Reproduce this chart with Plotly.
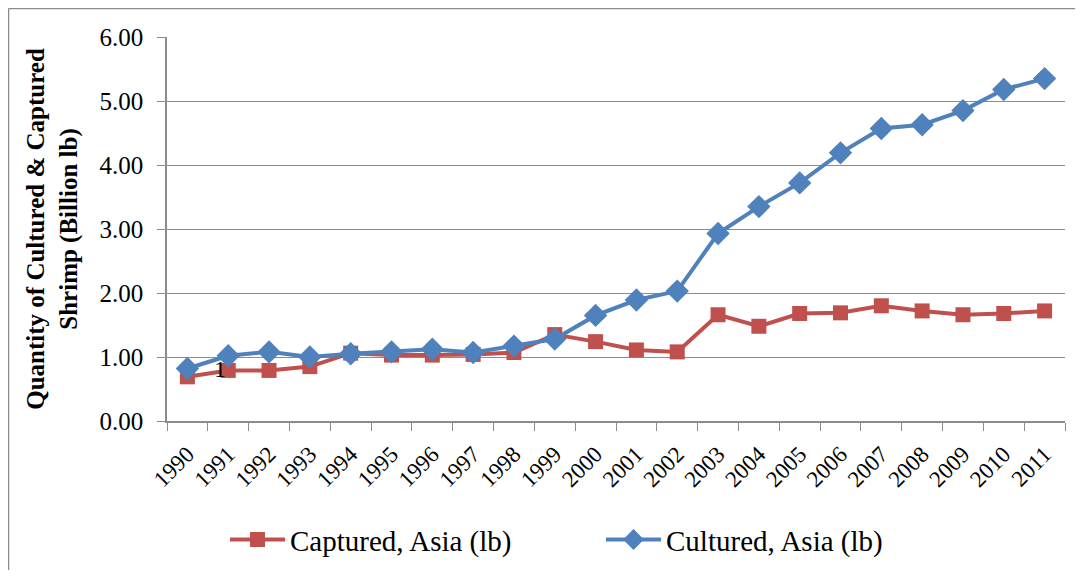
import plotly.graph_objects as go

years = [str(y) for y in range(1990, 2012)]
captured = [0.69, 0.79, 0.79, 0.85, 1.06, 1.03, 1.03, 1.04, 1.07, 1.35, 1.24, 1.11, 1.08,
            1.66, 1.48, 1.68, 1.69, 1.80, 1.72, 1.66, 1.68, 1.72]
cultured = [0.82, 1.02, 1.08, 1.00, 1.05, 1.08, 1.12, 1.07, 1.17, 1.28, 1.65, 1.89, 2.03,
            2.93, 3.35, 3.72, 4.19, 4.57, 4.63, 4.85, 5.18, 5.35]
y_ticks = [0, 1, 2, 3, 4, 5, 6]

FONT = "Liberation Serif"
RED = "#C0504D"
BLUE = "#4F81BD"
GRID = "#8C8C8C"

fig = go.Figure()
fig.add_trace(go.Scatter(
    x=years, y=captured, name="Captured, Asia (lb)", mode="lines+markers",
    line=dict(color=RED, width=4), marker=dict(symbol="square", size=15, color=RED)))
fig.add_trace(go.Scatter(
    x=years, y=cultured, name="Cultured, Asia (lb)", mode="lines+markers",
    line=dict(color=BLUE, width=4), marker=dict(symbol="diamond", size=18, color=BLUE)))

fig.add_annotation(x=0.8, y=0.81, xref="x", yref="y", text="1", showarrow=False,
                   font=dict(family=FONT, size=24, color="black"))

# page body has an 8px margin, so the figure is 16px smaller than the window
W, H = 1067, 562
L, R, T, B = 159, 10, 29, 149
pw, ph = W - L - R, H - T - B
# outer border (left and top edges visible)
fig.add_shape(type="line", xref="paper", yref="paper",
              x0=(0.5 - L) / pw, x1=(W - L) / pw + 0.01, y0=(H - B - 0.5) / ph, y1=(H - B - 0.5) / ph,
              line=dict(color="#8C8C8C", width=1.5))
fig.add_shape(type="line", xref="paper", yref="paper",
              x0=(0.5 - L) / pw, x1=(0.5 - L) / pw, y0=(H - B - 0.5) / ph, y1=-B / ph - 0.01,
              line=dict(color="#8C8C8C", width=1.5))

fig.update_layout(
    width=W, height=H,
    margin=dict(l=L, r=R, t=T, b=B, autoexpand=False),
    paper_bgcolor="white", plot_bgcolor="white",
    font=dict(family=FONT, size=22, color="black"),
    showlegend=True,
    legend=dict(orientation="h", x=0.0646, xanchor="left",
                yref="container", y=0.054, yanchor="middle",
                font=dict(family=FONT, size=29, color="black"),
                itemwidth=55, entrywidth=306, entrywidthmode="pixels",
                bgcolor="rgba(0,0,0,0)"),
    xaxis=dict(type="category", tickangle=-45, tickson="boundaries",
               ticks="outside", ticklen=8, tickcolor=GRID, tickwidth=1.3,
               ticklabelstandoff=9, automargin=False,
               showline=True, linecolor=GRID, linewidth=1.5, showgrid=False,
               tickfont=dict(family=FONT, size=23), range=[-0.5, 21.5]),
    yaxis=dict(range=[0, 6], tickvals=y_ticks, tickformat=".2f",
               ticks="outside", ticklen=8, tickcolor=GRID, tickwidth=1.3,
               ticklabelstandoff=9, automargin=False,
               showline=True, linecolor=GRID, linewidth=1.5,
               showgrid=True, gridcolor=GRID, gridwidth=1.3, zeroline=False,
               tickfont=dict(family=FONT, size=25),
               title=dict(text="<b>Quantity of Cultured & Captured<br>Shrimp (Billion lb)</b>",
                          font=dict(family=FONT, size=25), standoff=15)),
)

fig.write_html("out.html")
